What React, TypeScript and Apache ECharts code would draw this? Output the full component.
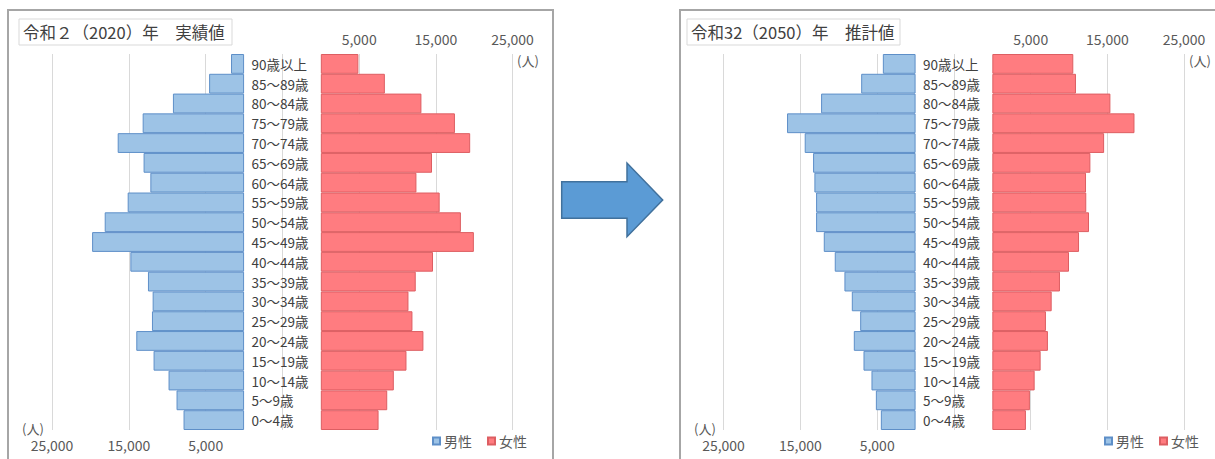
import React, { useEffect, useRef } from "react";
import * as echarts from "echarts";

const ageGroups = [
  "0～4歳", "5～9歳", "10～14歳", "15～19歳", "20～24歳", "25～29歳", "30～34歳",
  "35～39歳", "40～44歳", "45～49歳", "50～54歳", "55～59歳", "60～64歳", "65～69歳",
  "70～74歳", "75～79歳", "80～84歳", "85～89歳", "90歳以上",
];

// 令和2（2020）年 実績値
const male2020 = [7880, 8790, 9830, 11780, 14030, 11990, 11900, 12510, 14800, 19780, 18140, 15150, 12200, 13080, 16450, 13200, 9260, 4550, 1700];
const female2020 = [7530, 8660, 9520, 11170, 13380, 11950, 11430, 12380, 14630, 19960, 18270, 15500, 12470, 14500, 19480, 17490, 13120, 8350, 4900];

// 令和32（2050）年 推計値
const male2050 = [4520, 5170, 5740, 6780, 8040, 7210, 8300, 9260, 10520, 11950, 12950, 12950, 13170, 13340, 14430, 16730, 12300, 7080, 4260];
const female2050 = [4380, 4900, 5520, 6300, 7250, 6990, 7740, 8820, 10000, 11310, 12610, 12250, 12220, 12790, 14580, 18540, 15400, 10910, 10560];

const axisMin = -5000;
const axisMax = 25000;
const axisStep = 10000;

const titles = ["令和２（2020）年　実績値", "令和32（2050）年　推計値"];
const seriesNames = ["男性", "女性"];
const unitLabel = "(人)";

const FONT = "'Noto Sans CJK JP', 'Noto Sans', sans-serif";
const BLUE = "#9DC3E6";
const BLUE_BORDER = "#5E8FC8";
const RED = "#FF7C80";
const RED_BORDER = "#DD5E62";
const GRID_COLOR = "#D9D9D9";
const TEXT_COLOR = "#595959";

const SHIFT = 671.5;
const TOP = 54;
const HEIGHT = 376;

function fmt(v: number) {
  if (v <= 0) return "";
  return v.toLocaleString("en-US");
}

export default function App() {
  const ref = useRef<HTMLDivElement>(null);

  useEffect(() => {
    if (!ref.current) return;
    const chart = echarts.init(ref.current, undefined, { renderer: "svg" });

    const grids: any[] = [];
    const xAxes: any[] = [];
    const yAxes: any[] = [];
    const series: any[] = [];
    const data = [
      [male2020, female2020],
      [male2050, female2050],
    ];

    for (let p = 0; p < 2; p++) {
      const off = p * SHIFT;
      grids.push({ left: 52 + off, width: 230.5, top: TOP, height: HEIGHT });
      grids.push({ left: 282.5 + off, width: 230, top: TOP, height: HEIGHT });

      const gi = p * 2;
      const labelStyle = {
        formatter: fmt,
        color: TEXT_COLOR,
        fontSize: 14,
        fontFamily: FONT,
        margin: 8,
        showMinLabel: true,
        showMaxLabel: true,
      };
      xAxes.push({
        type: "value",
        gridIndex: gi,
        inverse: true,
        min: axisMin,
        max: axisMax,
        interval: axisStep,
        position: "bottom",
        axisLine: { show: false },
        axisTick: { show: false },
        splitLine: { show: true, lineStyle: { color: GRID_COLOR, width: 1 } },
        axisLabel: labelStyle,
      });
      xAxes.push({
        type: "value",
        gridIndex: gi + 1,
        min: axisMin,
        max: axisMax,
        interval: axisStep,
        position: "top",
        axisLine: { show: false },
        axisTick: { show: false },
        splitLine: { show: true, lineStyle: { color: GRID_COLOR, width: 1 } },
        axisLabel: labelStyle,
      });
      yAxes.push({
        type: "category",
        gridIndex: gi,
        data: ageGroups,
        position: "right",
        axisLine: { show: false, onZero: false },
        axisTick: { show: false },
        axisLabel: { show: false },
        splitLine: { show: false },
      });
      yAxes.push({
        type: "category",
        gridIndex: gi + 1,
        data: ageGroups,
        position: "left",
        axisLine: { show: false, onZero: false },
        axisTick: { show: false },
        axisLabel: {
          show: true,
          align: "left",
          margin: 31,
          color: "#404040",
          fontSize: 13.5,
          fontFamily: FONT,
          interval: 0,
        },
        splitLine: { show: false },
      });

      series.push({
        type: "bar",
        name: seriesNames[0],
        xAxisIndex: gi,
        yAxisIndex: gi,
        data: data[p][0],
        barCategoryGap: 0,
        itemStyle: { color: BLUE, borderColor: BLUE_BORDER, borderWidth: 1 },
        emphasis: { disabled: true },
      });
      series.push({
        type: "bar",
        name: seriesNames[1],
        xAxisIndex: gi + 1,
        yAxisIndex: gi + 1,
        data: data[p][1],
        barCategoryGap: 0,
        itemStyle: { color: RED, borderColor: RED_BORDER, borderWidth: 1 },
        emphasis: { disabled: true },
      });
    }

    const legends = [0, 1].map((p) => ({
      data: seriesNames,
      left: 427 + p * 672,
      top: 429,
      itemWidth: 7,
      itemHeight: 7,
      itemGap: 15,
      icon: "rect",
      selectedMode: false,
      textStyle: { fontSize: 14, color: TEXT_COLOR, fontFamily: FONT, padding: [0, 0, 0, -1] },
    }));

    const graphics: any[] = [];
    for (let p = 0; p < 2; p++) {
      const off = p * 672;
      graphics.push({
        type: "rect",
        shape: { x: 8 + off, y: 10, width: p === 0 ? 545 : 560, height: 470 },
        style: { fill: "none", stroke: "#A6A6A6", lineWidth: 2 },
        z: 1,
      });
      graphics.push({
        type: "rect",
        shape: { x: 19 + off - (p === 1 ? 4 : 0), y: 19, width: 213, height: 26 },
        style: { fill: "#FFFFFF", stroke: "#D9D9D9", lineWidth: 1 },
        z: 10,
      });
      graphics.push({
        type: "text",
        x: 23 + off - (p === 1 ? 4 : 0),
        y: 32,
        style: {
          text: titles[p],
          fill: "#404040",
          fontSize: 16.5,
          fontFamily: FONT,
          verticalAlign: "middle",
        },
        z: 11,
      });
      graphics.push({
        type: "text",
        x: 22 + off,
        y: 428,
        style: {
          text: unitLabel,
          fill: TEXT_COLOR,
          fontSize: 13,
          fontFamily: FONT,
          verticalAlign: "middle",
        },
        z: 11,
      });
      graphics.push({
        type: "text",
        x: 517 + off,
        y: 60,
        style: {
          text: unitLabel,
          fill: TEXT_COLOR,
          fontSize: 13,
          fontFamily: FONT,
          verticalAlign: "middle",
        },
        z: 11,
      });
    }
    graphics.push({
      type: "polygon",
      shape: {
        points: [
          [561.7, 181.7],
          [627, 181.7],
          [627, 163],
          [662.7, 200],
          [627, 236.7],
          [627, 218.3],
          [561.7, 218.3],
        ],
      },
      style: { fill: "#5B9BD5", stroke: "#41719C", lineWidth: 1.5 },
      z: 11,
    });

    chart.setOption({
      animation: false,
      backgroundColor: "#FFFFFF",
      textStyle: { fontFamily: FONT },
      grid: grids,
      xAxis: xAxes,
      yAxis: yAxes,
      series,
      legend: legends,
      graphic: graphics,
    });

    return () => chart.dispose();
  }, []);

  return (
    <div
      ref={ref}
      style={{ position: "fixed", left: 0, top: 0, width: 1215, height: 459, background: "#fff" }}
    />
  );
}
